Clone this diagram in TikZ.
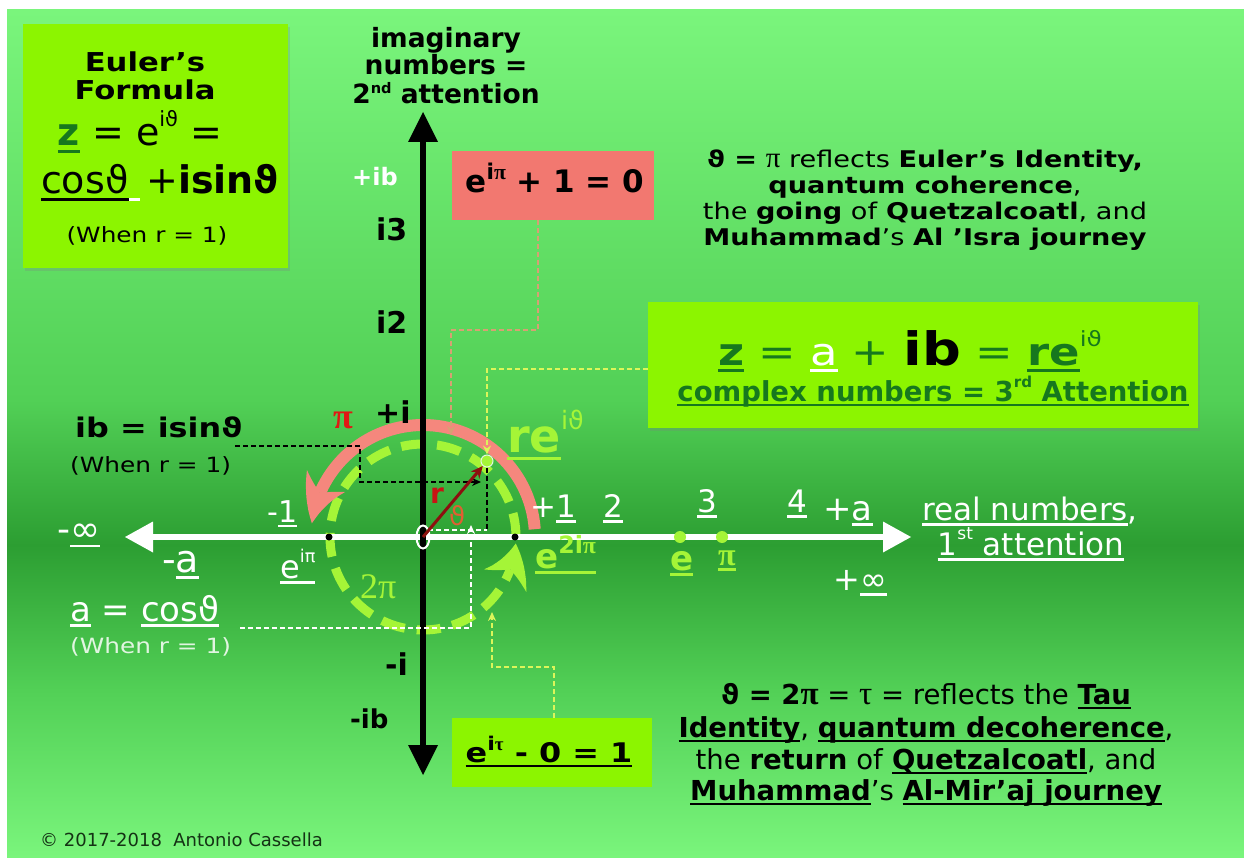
\documentclass[tikz,border=0pt]{standalone}
\usepackage{fontspec}
\setmainfont{DejaVu Sans}
\newfontfamily\grk{Liberation Serif}
\newfontfamily\wide{DejaVu Sans}[FakeStretch=1.18]
\usetikzlibrary{arrows.meta,bending,positioning,shapes.geometric,shadows}

\definecolor{bglight}{RGB}{122,245,124}
\definecolor{bgmid}{RGB}{82,208,86}
\definecolor{bgdark}{RGB}{44,158,50}
\definecolor{limebox}{RGB}{140,245,0}
\definecolor{salmonbox}{RGB}{242,120,112}
\definecolor{salmonarc}{RGB}{245,135,125}
\definecolor{limetxt}{RGB}{165,245,55}
\definecolor{deepgreen}{RGB}{22,120,30}
\definecolor{pired}{RGB}{225,25,20}
\definecolor{rred}{RGB}{200,20,20}
\definecolor{thorange}{RGB}{225,95,50}
\definecolor{darkred}{RGB}{140,15,15}
\definecolor{tanline}{RGB}{215,160,115}
\definecolor{yelline}{RGB}{220,245,90}
\definecolor{whenwhite}{RGB}{225,245,225}
\definecolor{copytxt}{RGB}{20,50,20}

\newcommand\fsz[1]{\fontsize{#1}{#1}\selectfont}
\newcommand\sups[1]{\raisebox{0.5em}{\scalebox{0.55}{#1}}}
\newcommand\suplow[1]{\raisebox{0.4em}{\scalebox{0.55}{#1}}}
\newcommand\supbig[1]{\raisebox{0.42em}{\scalebox{0.7}{#1}}}
\newcommand\undl[1]{\setbox0\hbox{#1}\rlap{\rule[-0.18em]{\wd0}{0.08em}}\box0\relax}

\begin{document}
\begin{tikzpicture}[x=1pt, y=1pt,
    panel/.style={fill=limebox, inner sep=0pt},
    lbl/.style={anchor=base, inner sep=0pt},
    lblw/.style={anchor=base west, inner sep=0pt},
    realaxis/.style={draw=white, line width=6pt, <->, >={Triangle[length=28pt,width=31pt,line width=0pt]}},
    imagaxis/.style={draw=black, line width=6pt, <->, >={Triangle[length=30pt,width=30pt,line width=0pt]}},
    blkdash/.style={draw=black, line width=1.8pt, dash pattern=on 5pt off 3pt},
    whdash/.style={blkdash, draw=white},
    limedash/.style={blkdash, draw=yelline},
    tandash/.style={blkdash, draw=tanline},
    smalltip/.style={-{Stealth[length=9pt,width=8pt]}},
    limecirc/.style={draw=limetxt, line width=9pt, dash pattern=on 24pt off 12pt,
        -{Stealth[length=40pt,width=48pt,inset=13pt,line width=0pt,bend]}},
    piarc/.style={draw=salmonarc, line width=12pt,
        -{Stealth[length=46pt,width=44pt,inset=14pt,line width=0pt,bend]}},
    radvec/.style={draw=darkred, line width=3pt, -{Stealth[length=12pt,width=11pt]}},
    bigdot/.style={circle, inner sep=0pt, minimum size=12pt, fill=limetxt},
    smalldot/.style={circle, inner sep=0pt, minimum size=7pt, fill=black}
]
\useasboundingbox (0,0) rectangle (1244,-858);

% background
\shade[top color=bglight, bottom color=bgmid] (7,-10) rectangle (1244,-400);
\shade[top color=bgmid, bottom color=bgdark] (7,-400) rectangle (1244,-545);
\shade[top color=bgdark, bottom color=bgmid] (7,-545) rectangle (1244,-690);
\shade[top color=bgmid, bottom color=bglight] (7,-690) rectangle (1244,-857);

% boxes
\node[panel, minimum width=265pt, minimum height=244pt,
      drop shadow={shadow xshift=2pt, shadow yshift=-3pt, opacity=.25}] (euler) at (155.5,-146) {};
\node[fill=salmonbox, inner sep=0pt, minimum width=202pt, minimum height=69pt] (pibox) at (553,-185.5) {};
\node[panel, minimum width=550pt, minimum height=126pt,
      drop shadow={shadow xshift=2pt, shadow yshift=-3pt, opacity=.25}] (cbox) at (923,-365) {};
\node[panel, minimum width=200pt, minimum height=69pt] (taubox) at (552,-752.5) {};

% unit circle and the pi arc
\coordinate (O) at (423,-537);
\draw[limecirc] ([shift={(0:93pt)}]O) arc[start angle=0, end angle=356, radius=93pt];
\draw[piarc] ([shift={(4:112pt)}]O) arc[start angle=4, end angle=173, radius=112pt];

% axes
\coordinate (rleft) at (125,-537);
\coordinate (rright) at (911,-537);
\coordinate (itop) at (423,-112);
\coordinate (ibot) at (423,-775);
\draw[realaxis] (rleft) -- (rright);
\draw[imagaxis] (ibot) -- (itop);

% points
\node[smalldot] (mone) at (329,-537) {};
\node[smalldot] (pone) at (515,-537) {};
\node[bigdot] (edot) at (680,-537) {};
\node[bigdot] (pidot) at (722,-537) {};
\node[circle, fill=limetxt, draw=whenwhite, line width=1pt, minimum size=12pt, inner sep=0pt] (pt) at (487,-461) {};
\node[ellipse, draw=white, line width=2pt, minimum width=13pt, minimum height=23pt, inner sep=0pt] (orig) at (O) {};

% projections and leaders
\coordinate (ibfoot) at (235,-446);
\coordinate (sinend) at (481,-482);
\coordinate (cosfoot) at (487,-530);
\coordinate (cosstart) at (240,-628);
\coordinate (cosarrow) at (471,-525);
\coordinate (tauarrow) at (492,-612);
\coordinate (piarrow) at (451,-435);
\draw[blkdash, smalltip] (ibfoot) -- ++(125,0) |- (sinend);
\draw[blkdash] (pt) -- (cosfoot);
\draw[whdash] ([xshift=5pt,yshift=7pt]O) -- (cosfoot);
\draw[whdash, smalltip] (cosstart) -| (cosarrow);
\draw[limedash, smalltip] ([xshift=2pt]taubox.north) -- ++(0,51) -| (tauarrow);
\draw[tandash, smalltip] ([xshift=-15pt]pibox.south) -- ++(0,-110) -| (piarrow);
\draw[limedash, smalltip] ([yshift=-4pt]cbox.west) -| (pt.north);
\draw[radvec] (O) -- (pt);

% Euler's formula box
\node[lbl] (eulerA) at (145,-72) {\wide\fsz{26}\bfseries Euler’s};
\node[lbl] (eulerB) at (145,-100) {\wide\fsz{26}\bfseries Formula};
\node[lbl] (zform) at (140,-146) {\fsz{38}\textcolor{deepgreen}{\bfseries\undl{z}} = e\sups{iϑ} =};
\node[lbl] (cform) at (160,-194) {\fsz{38}\undl{cosϑ}\textcolor{white}{\undl{\hspace{0.3em}}}\,+\textbf{isinϑ}};
\node[lbl] (whenE) at (147,-243) {\wide\fsz{21}(When r = 1)};

% imaginary axis labels
\node[lbl] (imA) at (446,-48) {\fsz{26.5}\bfseries imaginary};
\node[lbl] (imB) at (446,-75) {\fsz{26.5}\bfseries numbers =};
\node[lbl] (imC) at (446,-104) {\fsz{26.5}\bfseries 2\suplow{nd} attention};
\node[lblw, text=white] (plusib) at (352,-186) {\fsz{24}\bfseries +ib};
\node[lblw] (ithree) at (376,-241) {\fsz{30}\bfseries i3};
\node[lblw] (itwo) at (376,-334) {\fsz{30}\bfseries i2};
\node[lblw] (iplus) at (375,-423) {\fsz{30}\bfseries +i};
\node[lblw] (iminus) at (385,-675) {\fsz{30}\bfseries -i};
\node[lblw] (ibminus) at (350,-728) {\fsz{26}\bfseries -ib};

% identities
\node[lbl] (eulerid) at (555,-193) {\fsz{31}\bfseries e\supbig{i{\grk π}} + 1 = 0};
\node[lbl] (tauid) at (549,-762) {\wide\fsz{27}\bfseries\undl{e\supbig{i{\grk τ}} - 0 = 1}};

% text top right
\node[lbl] (goA) at (925,-168) {\wide\fsz{23}\textbf{ϑ =} {\grk\fsz{29}π} reflects \textbf{Euler’s Identity,}};
\node[lbl] (goB) at (925,-194) {\wide\fsz{23}\textbf{quantum coherence},};
\node[lbl] (goC) at (925,-220) {\wide\fsz{23}the \textbf{going} of \textbf{Quetzalcoatl}, and};
\node[lbl] (goD) at (925,-246) {\wide\fsz{23}\textbf{Muhammad}’s \textbf{Al ’Isra journey}};

% complex numbers box
\node[lbl, text=deepgreen] (zsum) at (910,-365) {\wide\fsz{38}{\bfseries\undl{z}} = \textcolor{white}{\undl{a}} + \textcolor{black}{\fsz{46}\bfseries ib} = {\bfseries\undl{re}}\sups{iϑ}};
\node[lbl, text=deepgreen] (cnum) at (933,-401) {\fsz{27.5}\bfseries\undl{complex numbers = 3\sups{rd} Attention}};

% text bottom right
\node[lbl] (retA) at (926,-704) {\fsz{27.5}\textbf{ϑ = 2{\grk\fsz{33}π}} = {\grk\fsz{33}τ} = reflects the \textbf{\undl{Tau}}};
\node[lbl] (retB) at (926,-737) {\fsz{27.5}\textbf{\undl{Identity}}, \textbf{\undl{quantum decoherence}},};
\node[lbl] (retC) at (926,-769) {\fsz{27.5}the \textbf{return} of \textbf{\undl{Quetzalcoatl}}, and};
\node[lbl] (retD) at (926,-800) {\fsz{27.5}\textbf{\undl{Muhammad}}’s \textbf{\undl{Al-Mir’aj journey}}};

% left labels
\node[lblw] (ibeq) at (75,-437) {\wide\fsz{27}\bfseries ib = isinϑ};
\node[lblw] (whenB) at (70,-472) {\wide\fsz{21}(When r = 1)};
\node[lblw, text=white] (aeq) at (70,-621) {\fsz{34}\undl{a} = \undl{cosϑ}};
\node[lblw, text=whenwhite] (whenC) at (70,-653) {\wide\fsz{21}(When r = 1)};

% real axis labels
\node[lblw, text=white] (neginf) at (57,-541) {\fsz{36}-\undl{∞}};
\node[lblw, text=white] (nega) at (162,-572) {\fsz{38}-\undl{a}};
\node[lblw, text=white] (negone) at (267,-522) {\fsz{30}-\undl{1}};
\node[lblw, text=white] (eipi) at (280,-578) {\fsz{32}\undl{e\sups{iπ}}};
\node[lblw, text=white] (posone) at (530,-517) {\fsz{31}+\undl{1}};
\node[lblw, text=white] (two) at (603,-517) {\fsz{31}\undl{2}};
\node[lblw, text=white] (three) at (697,-512) {\fsz{31}\undl{3}};
\node[lblw, text=white] (four) at (787,-512) {\fsz{31}\undl{4}};
\node[lblw, text=white] (posa) at (823,-520) {\fsz{34}+\undl{a}};
\node[lbl, text=white] (realA) at (1030,-520) {\fsz{31}\undl{real numbers},};
\node[lbl, text=white] (realB) at (1031,-555) {\fsz{31}\undl{1\sups{st} attention}};
\node[lblw, text=white] (posinf) at (833,-590) {\fsz{32}+\undl{∞}};

% lime labels
\node[lblw, text=limetxt] (etwopi) at (535,-568) {\fsz{34}\bfseries\undl{e\supbig{2i{\grk π}}}};
\node[lblw, text=limetxt] (econst) at (670,-570) {\fsz{34}\bfseries\undl{e}};
\node[lblw, text=limetxt] (piconst) at (718,-565) {\fsz{32}\bfseries\undl{{\grk π}}};
\node[lblw, text=limetxt] (twopi) at (360,-598) {\grk\fsz{36}2π};
\node[lblw, text=limetxt] (reith) at (507,-452) {\fsz{46}\bfseries\undl{re}\mdseries\sups{iϑ}};

% circle labels
\node[lblw, text=pired] (pilbl) at (333,-428) {\grk\bfseries\fsz{36}π};
\node[lblw, text=rred] (rlbl) at (430,-503) {\fsz{28}\bfseries r};
\node[lblw, text=thorange] (thlbl) at (449,-525) {\fsz{26}ϑ};

\node[lblw, text=copytxt] (copy) at (40,-846) {\fsz{18}© 2017-2018\ \ Antonio Cassella};
\end{tikzpicture}
\end{document}
